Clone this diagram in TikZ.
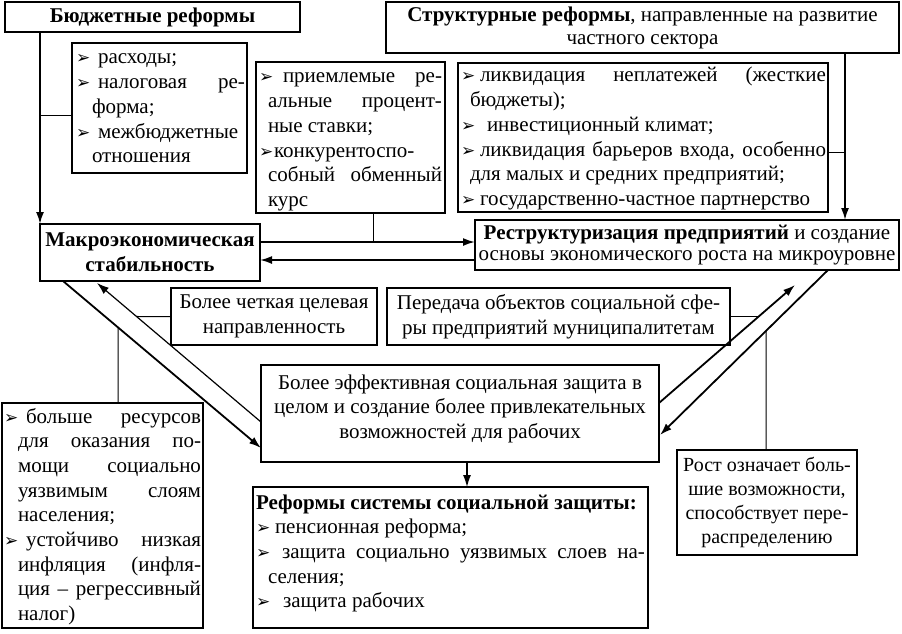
\documentclass[tikz,border=0pt]{standalone}
\usepackage{fontspec}
\setmainfont{Liberation Serif}
\newfontfamily\dejavu{DejaVu Sans}
\usetikzlibrary{arrows.meta,calc}
\newcommand\fnt{\fontsize{21}{24.7}\selectfont}
\newcommand\bul{{\dejavu\fontsize{17}{17}\selectfont ➢}}
% bullet line, justified / left
\newcommand\BJ[2]{\noindent\makebox[#1pt][l]{\bul}\makebox[\dimexpr\linewidth-#1pt\relax][s]{\strut #2}\par}
\newcommand\BL[2]{\noindent\makebox[#1pt][l]{\bul}\strut #2\par}
% continuation line, justified / left
\newcommand\CJ[2]{\noindent\hspace*{#1pt}\makebox[\dimexpr\linewidth-#1pt\relax][s]{\strut #2}\par}
\newcommand\CL[2]{\noindent\hspace*{#1pt}\strut #2\par}
% top-aligned box body: height, width, top pad, left pad, right pad, body
\newcommand\bx[6]{\parbox[c][#1pt][t]{#2pt}{\vspace*{#3pt}\noindent\hspace*{#4pt}\parbox[t]{\dimexpr#2pt-#4pt-#5pt\relax}{#6}}}
\begin{document}
\begin{tikzpicture}[x=1pt,y=-1pt,
  box/.style={draw, line width=1.8pt, inner sep=0pt, outer sep=0pt, anchor=north west, font=\fnt},
  arr/.style={line width=1.8pt, -{Latex[length=12pt,width=8pt]}},
  arrthin/.style={line width=1.2pt, -{Latex[length=12pt,width=8pt]}},
  stub/.style={line width=1pt}]
\useasboundingbox (0,0) rectangle (902,633);

% ---- boxes ----
\node[box, minimum width=295pt, minimum height=30pt, font=\fnt\bfseries] (budget) at (5,2) {Бюджетные реформы};
\node[box, minimum width=513pt, minimum height=51pt, align=center, font=\fontsize{21}{23}\selectfont] (struct) at (386,2)
  {\textbf{Структурные реформы}, направленные на развитие\\частного сектора};
\node[box] (b1) at (72,43) {\bx{130}{175}{3.7}{4}{2}{%
  \BL{22}{расходы;}
  \BJ{22}{налоговая ре-}
  \CL{16}{форма;}
  \BL{22}{межбюджетные}
  \CL{16}{отношения}}};
\node[box] (b2) at (256,62) {\bx{151}{189}{3.7}{3}{3}{%
  \BJ{24}{приемлемые ре-}
  \CJ{9}{альные процент-}
  \CL{9}{ные ставки;}
  \BL{15}{конкурентоспо-}
  \CJ{9}{собный обменный}
  \CL{9}{курс}}};
\node[box] (b3) at (458,63) {\bx{149}{370}{1.7}{3}{2}{%
  \BJ{19}{ликвидация неплатежей (жесткие}
  \CL{9}{бюджеты);}
  \BL{26}{инвестиционный климат;}
  \BJ{19}{ликвидация барьеров входа, особенно}
  \CL{9}{для малых и средних предприятий;}
  \BL{19}{государственно-частное партнерство}}};
\node[box, minimum width=220pt, minimum height=57pt, align=center, font=\fontsize{21}{25}\selectfont\bfseries] (macro) at (40,224)
  {Макроэкономическая\\стабильность};
\node[box, minimum width=424pt, minimum height=50pt, align=center, font=\fontsize{21}{21}\selectfont] (restr) at (475,220)
  {\textbf{Реструктуризация предприятий} и создание\\основы экономического роста на микроуровне};
\node[box, minimum width=206pt, minimum height=57pt, align=center] (b8) at (171,288)
  {Более четкая целевая\\направленность};
\node[box, minimum width=343pt, minimum height=57pt, align=center] (b9) at (387,288)
  {Передача объектов социальной сфе-\\ры предприятий муниципалитетам};
\node[box] (b10) at (261,365) {\bx{97}{398}{6.7}{0}{0}{\centering
  \strut Более эффективная социальная защита в\\
  \strut целом и создание более привлекательных\\
  \strut возможностей для рабочих\par}};
\node[box] (b11) at (253,487) {\bx{141}{395}{4.7}{3}{3}{%
  \CL{0}{\textbf{Реформы системы социальной защиты:}}
  \BL{19}{пенсионная реформа;}
  \BJ{26}{защита социально уязвимых слоев на-}
  \CL{12}{селения;}
  \BL{27}{защита рабочих}}};
\node[box] (b12) at (2,403) {\bx{225}{201}{2.7}{2}{2}{%
  \BJ{22}{больше ресурсов}
  \CJ{14}{для оказания по-}
  \CJ{14}{мощи социально}
  \CJ{14}{уязвимым слоям}
  \CL{14}{населения;}
  \BJ{22}{устойчиво низкая}
  \CJ{14}{инфляция (инфля-}
  \CJ{14}{ция – регрессивный}
  \CL{14}{налог)}}};
\node[box, minimum width=180pt, minimum height=105pt, align=center, font=\fontsize{20}{24}\selectfont] (b13) at (677,450)
  {Рост означает боль-\\шие возможности,\\способствует пере-\\распределению};

% ---- helper coordinates ----
\coordinate (sx) at (845,0);
\coordinate (s1) at ($(b1.north west)!0.554!(b1.south west)$);
\coordinate (s3) at ($(b3.north east)!0.6!(b3.south east)$);
\coordinate (uy) at (0,242);
\coordinate (ly) at (0,260);
\coordinate (xv) at (373,0);
\coordinate (xd) at (467,0);
\coordinate (OA) at (63,281);
\coordinate (OB) at (261,448);
\coordinate (IA) at (261,422);
\coordinate (IB) at (97,283);
\coordinate (RA) at (659,403);
\coordinate (RB) at (795,285);
\coordinate (QA) at (828,270);
\coordinate (QB) at (660,435);
\coordinate (h8) at ($(b8.west)+(-150,0)$);
\coordinate (h9) at ($(b9.east)+(150,0)$);
\coordinate (xl) at (118,0);
\coordinate (xl2) at (118,633);
\coordinate (xr) at (766,0);
\coordinate (xr2) at (766,633);

% ---- connectors ----
\draw[arr] (macro.north west |- budget.south) -- (macro.north west);
\draw[stub] (s1 -| macro.north west) -- (s1);
\draw[arr] (sx |- struct.south) -- (sx |- restr.north);
\draw[stub] (s3) -- (s3 -| sx);
\draw[arr] (macro.east |- uy) -- (restr.west |- uy);
\draw[arr] (restr.west |- ly) -- (macro.east |- ly);
\draw[stub] (xv |- b2.south) -- (xv |- uy);
\draw[arr] (OA) -- (OB);
\draw[arrthin] (IA) -- (IB);
\draw[arr] (RA) -- (RB);
\draw[arr] (QA) -- (QB);
\draw[stub] (intersection of IA--IB and b8.west--h8) -- (b8.west);
\draw[stub] (b9.east) -- (intersection of RA--RB and b9.east--h9);
\draw[stub] (intersection of OA--OB and xl--xl2) -- (xl |- b12.north);
\draw[stub] (intersection of QA--QB and xr--xr2) -- (xr |- b13.north);
\draw[arrthin] (xd |- b10.south) -- (xd |- b11.north);
\end{tikzpicture}
\end{document}
